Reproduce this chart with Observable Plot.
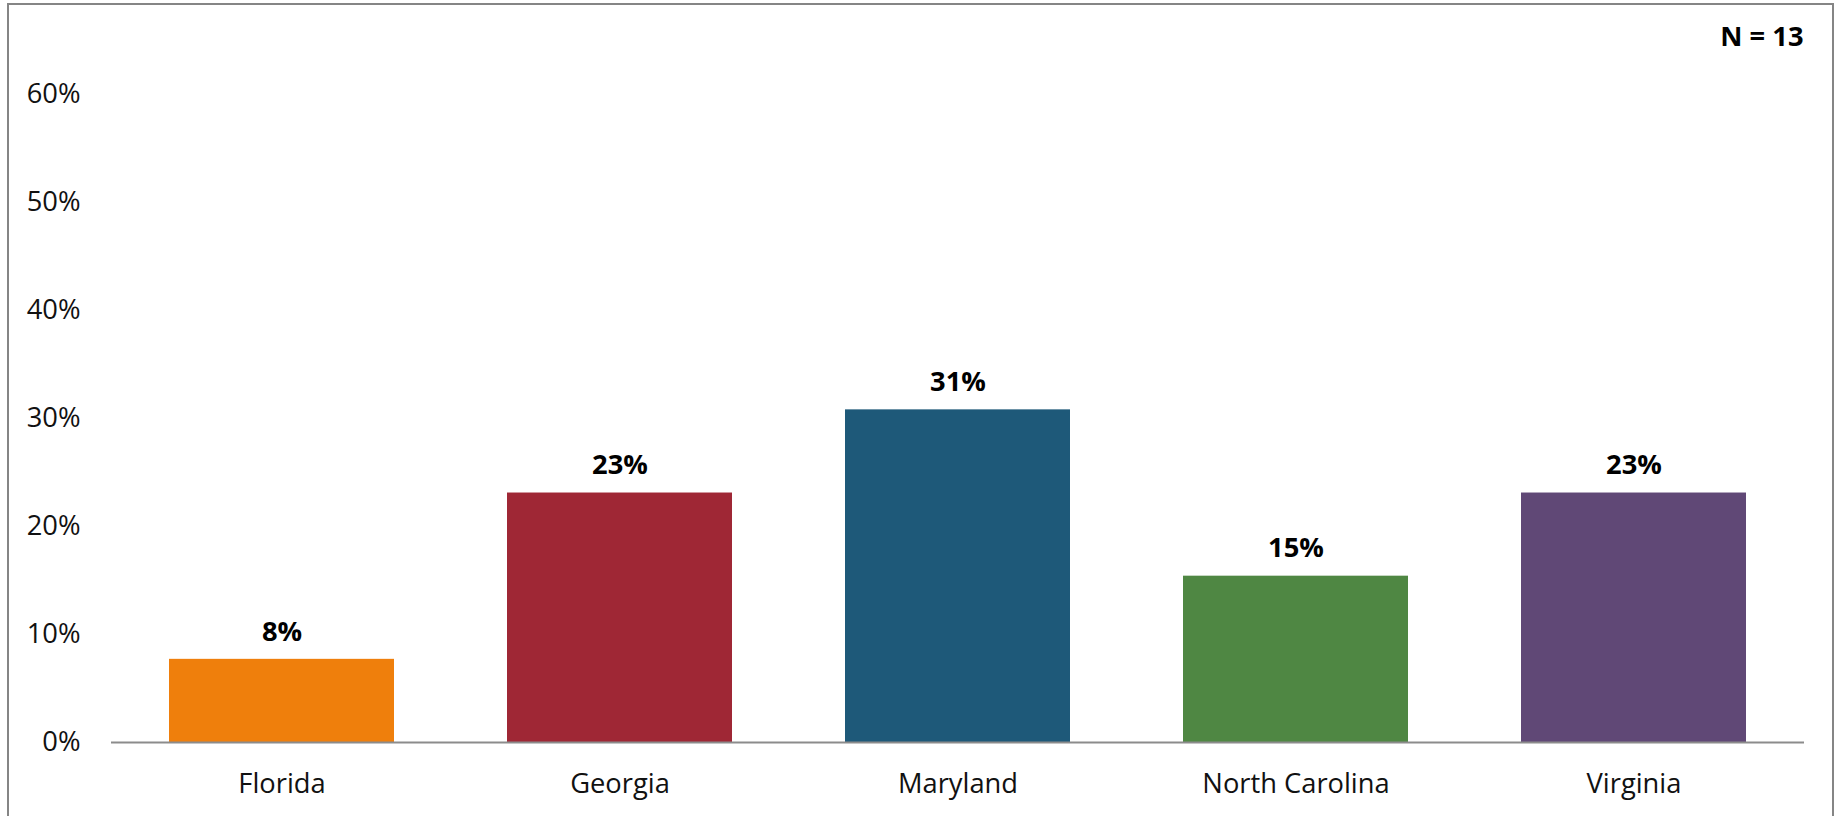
<!DOCTYPE html>
<html>
<head>
<meta charset="utf-8">
<script src="https://cdn.jsdelivr.net/npm/d3@7"></script>
<script src="https://cdn.jsdelivr.net/npm/@observablehq/plot@0.6"></script>
<style>
  html, body { margin: 0; padding: 0; background: #fff; overflow: hidden; }
  #wrap { position: relative; width: 1837px; height: 816px; }
  #frame { position: absolute; left: 7px; top: 3px; width: 1823px; height: 900px; border: 2px solid #858585; box-sizing: content-box; pointer-events: none; }
  #chart { position: absolute; left: 0; top: 0; }
</style>
</head>
<body>
<div id="wrap">
  <div id="chart"></div>
  <div id="frame"></div>
</div>
<script>
const states = ["Florida", "Georgia", "Maryland", "North Carolina", "Virginia"];
const shares = [7.7, 23.1, 30.8, 15.4, 23.1];
const barColors = ["#EF7F0C", "#9F2735", "#1E5979", "#4F8743", "#604876"];
const yTicks = [0, 10, 20, 30, 40, 50, 60];
const sampleNote = "N = 13";

const data = states.map((s, i) => ({state: s, share: shares[i]}));
const fs = 27.3;

const chart = Plot.plot({
  width: 1837,
  height: 816,
  marginLeft: 111,
  marginRight: 33,
  marginTop: 94,
  marginBottom: 74,
  style: {fontFamily: "'Open Sans', sans-serif", fontSize: fs + "px", color: "#111", background: "transparent"},
  x: {domain: states, paddingInner: 0.333, paddingOuter: 0.1667, label: null},
  y: {domain: [0, 60], label: null},
  color: {domain: states, range: barColors},
  marks: [
    Plot.barY(data, {x: "state", y: "share", fill: "state"}),
    Plot.ruleY([0], {stroke: "#8c8c8c", strokeWidth: 2}),
    Plot.axisY({ticks: yTicks, tickSize: 0, tickPadding: 31, tickFormat: d => d + "%", fontSize: fs, label: null}),
    Plot.axisX({tickSize: 0, tickPadding: 31, fontSize: fs, label: null}),
    Plot.text(data, {x: "state", y: "share", text: d => Math.round(d.share) + "%", fontWeight: "bold", fontSize: fs, lineAnchor: "middle", dy: -27.5, fill: "#000"}),
    Plot.text([sampleNote], {frameAnchor: "top-right", text: d => d, fontWeight: "bold", fontSize: fs, lineAnchor: "top", textAnchor: "end", dy: -68, dx: -1, fill: "#000"})
  ]
});
document.getElementById("chart").appendChild(chart);
</script>
</body>
</html>
